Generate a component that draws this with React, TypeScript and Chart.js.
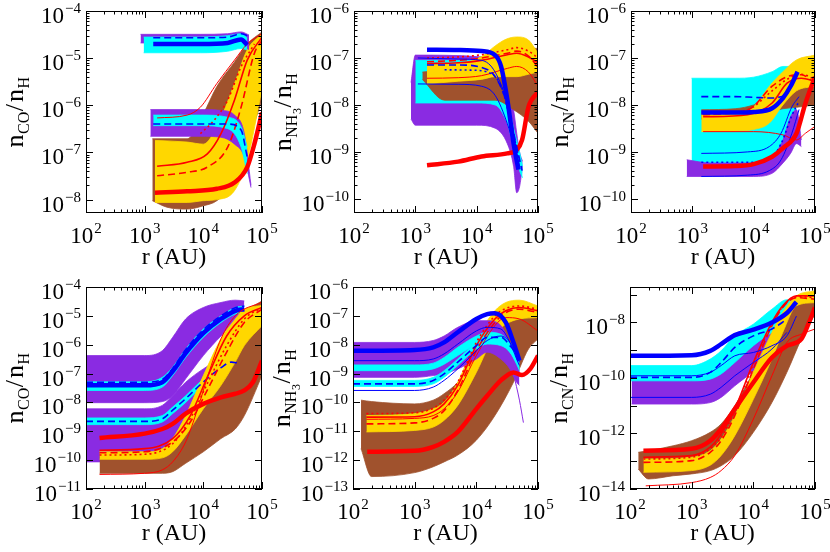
import React, { useEffect, useRef } from 'react';
import { Chart, registerables } from 'chart.js';

Chart.register(...registerables);

const W = 830;
const H = 552;
const SERIF = '"Liberation Serif", "Times New Roman", "DejaVu Serif", serif';

const PURPLE = '#8a2be2';
const CYAN = '#00ffff';
const GOLD = '#ffd700';
const BROWN = '#a0522d';
const BLUE = '#0000ff';
const RED = '#ff0000';

// ---------- shared axis ticks ----------
const xTicks = [1e2, 1e3, 1e4, 1e5];
const xTickExps = ['2', '3', '4', '5'];
const minorMult = [2, 3, 4, 5, 6, 7, 8, 9];

// ---------- Panel 1 : CO (top-left) ----------
const p1YTicks = [1e-4, 1e-5, 1e-6, 1e-7, 1e-8];
const p1YExps = ['\u22124', '\u22125', '\u22126', '\u22127', '\u22128'];
const p1PurpleAX = [850, 2400, 8900, 26000, 44000, 60000];
const p1PurpleAHi = [3.2e-5, 3.2e-5, 3.2e-5, 3.3e-5, 3.6e-5, 3.1e-5];
const p1PurpleALo = [2.1e-5, 2.1e-5, 2.1e-5, 2.1e-5, 2.0e-5, 1.5e-5];
const p1CyanAX = [960, 2400, 8900, 26000, 44000, 56000];
const p1CyanAHi = [2.8e-5, 2.8e-5, 2.8e-5, 3.0e-5, 3.3e-5, 2.7e-5];
const p1CyanALo = [1.3e-5, 1.3e-5, 1.3e-5, 1.4e-5, 1.6e-5, 1.5e-5];
const p1PurpleBX = [1250, 8900, 20000, 34000, 50000, 65000];
const p1PurpleBHi = [8.1e-7, 8.1e-7, 7.8e-7, 6.2e-7, 2.5e-7, 2e-8];
const p1PurpleBLo = [2.2e-7, 2.2e-7, 2.1e-7, 1.5e-7, 8e-8, 1.8e-8];
const p1CyanBX = [1400, 8900, 26000, 44000, 56000];
const p1CyanBHi = [6.2e-7, 6.2e-7, 5.6e-7, 3.5e-7, 1.3e-7];
const p1CyanBLo = [3.7e-7, 3.7e-7, 3.2e-7, 1.3e-7, 3.5e-8];
const p1BrownX = [1350, 2400, 5300, 10000, 17000, 34000, 56000, 100000];
const p1BrownHi = [1.95e-7, 1.95e-7, 1.95e-7, 6.6e-7, 2.5e-6, 8.3e-6, 2.0e-5, 3.6e-5];
const p1BrownLo = [9.5e-9, 6.9e-9, 6.3e-9, 7.4e-9, 9.5e-9, 2.5e-8, 1.5e-7, 1.3e-6];
const p1GoldX = [1500, 5300, 10000, 17000, 34000, 56000, 100000];
const p1GoldHi = [1.8e-7, 1.66e-7, 1.5e-7, 3.5e-7, 2.9e-6, 1.5e-5, 3.3e-5];
const p1GoldLo = [8.7e-9, 8.7e-9, 9.5e-9, 1.0e-8, 1.55e-8, 6.8e-8, 2.2e-6];
const p1BlueX = [1400, 8900, 26000, 44000, 56000];
const p1BlueThick = [2.0e-5, 2.0e-5, 2.1e-5, 2.5e-5, 1.9e-5];
const p1BlueDashA = [2.7e-5, 2.7e-5, 2.8e-5, 3.3e-5, 3.0e-5];
const p1BlueDashB = [4e-7, 4e-7, 4e-7, 3e-7, 8e-8];
const p1RedThickX = [1500, 5300, 17000, 34000, 56000, 74000, 100000];
const p1RedThick = [1.4e-8, 1.5e-8, 1.7e-8, 2.3e-8, 4.9e-8, 1.5e-7, 7e-7];
const p1RedThinX = [1630, 5300, 8900, 17000, 34000, 56000, 100000];
const p1RedThin = [5.4e-7, 6.2e-7, 9.1e-7, 2.9e-6, 9.1e-6, 2.0e-5, 3.3e-5];
const p1RedMedX = [1630, 5300, 11700, 20000, 34000, 56000, 100000];
const p1RedMed = [5.1e-8, 6.2e-8, 9.3e-8, 2.5e-7, 1.3e-6, 9.1e-6, 2.8e-5];
const p1RedDashX = [1630, 5300, 11700, 26000, 44000, 74000, 100000];
const p1RedDash = [3.2e-8, 3.8e-8, 4.9e-8, 1.3e-7, 9.1e-7, 1.26e-5, 2.4e-5];
const p1RedDotX = [8900, 15200, 26000, 44000, 74000];
const p1RedDot = [2.5e-7, 4.8e-7, 1.3e-6, 6.6e-6, 2e-5];

// ---------- Panel 2 : NH3 (top-middle) ----------
const p2YTicks = [1e-6, 1e-7, 1e-8, 1e-9, 1e-10];
const p2YExps = ['\u22126', '\u22127', '\u22128', '\u22129', '\u221210'];
const p2PurpleX = [850, 1000, 10000, 20000, 31600, 40000, 45000, 50000, 56000];
const p2PurpleHi = [3e-8, 1.15e-7, 1.07e-7, 7.8e-8, 2.9e-8, 7.9e-9, 2.5e-9, 1e-9, 6.3e-10];
const p2PurpleLo = [5e-9, 3.7e-9, 3.7e-9, 3.2e-9, 1.5e-9, 4.9e-10, 1.35e-10, 1.8e-10, 5e-10];
const p2CyanX = [1000, 10000, 20000, 31600, 40000, 50000, 56000];
const p2CyanHi = [8.9e-8, 8.9e-8, 5e-8, 1.26e-8, 3.2e-9, 1e-9, 5e-10];
const p2CyanLo = [1.1e-8, 1.1e-8, 1e-8, 4e-9, 1.26e-9, 4e-10, 2.8e-10];
const p2BrownX = [1300, 3000, 10000, 20000, 40000, 70000, 100000];
const p2BrownHi = [5e-8, 5.6e-8, 7.9e-8, 1.1e-7, 1.4e-7, 1.6e-7, 1.6e-7];
const p2BrownLo = [3.5e-8, 1.26e-8, 1.26e-8, 1.26e-8, 7.9e-9, 4.5e-9, 2.5e-9];
const p2GoldX = [1550, 5000, 12000, 20000, 30000, 45000, 70000, 100000];
const p2GoldHi = [7.1e-8, 7.6e-8, 1.07e-7, 1.8e-7, 2.5e-7, 2.8e-7, 2.4e-7, 1.26e-7];
const p2GoldLo = [2.8e-8, 3.2e-8, 3.5e-8, 4e-8, 4e-8, 4e-8, 4.5e-8, 5e-8];
const p2BlueThickX = [1550, 5000, 12000, 20000, 25000, 31600, 40000, 48000];
const p2BlueThick = [1.5e-7, 1.48e-7, 1.4e-7, 1.15e-7, 6.6e-8, 1.3e-8, 1.5e-9, 4.2e-10];
const p2BlueThinAX = [1100, 5000, 12000, 20000, 31600, 45000];
const p2BlueThinA = [1e-7, 9.5e-8, 8.9e-8, 5e-8, 1e-8, 8e-10];
const p2BlueDashX = [1550, 5000, 12000, 20000, 31600, 45000, 55000];
const p2BlueDash = [7.1e-8, 7.1e-8, 6.3e-8, 4e-8, 1e-8, 1.26e-9, 4e-10];
const p2BlueDotX = [3000, 8000, 15000, 25000, 35000, 50000];
const p2BlueDot = [5.6e-8, 5.5e-8, 5e-8, 2.5e-8, 5e-9, 6.3e-10];
const p2BlueThinBX = [1100, 5000, 12000, 20000, 31600, 50000];
const p2BlueThinB = [2.8e-8, 2.75e-8, 2.5e-8, 1.6e-8, 4e-9, 5e-10];
const p2RedThickX = [1550, 5000, 12000, 31600, 45000, 55000, 70000, 100000];
const p2RedThick = [5.2e-10, 6.2e-10, 8e-10, 9.3e-10, 1.1e-9, 1.8e-9, 9.1e-9, 1.9e-8];
const p2RedX = [1550, 5000, 12000, 31600, 45000, 70000, 100000];
const p2RedThin = [3.7e-8, 3.8e-8, 4.2e-8, 6e-8, 6.6e-8, 5e-8, 2.5e-8];
const p2RedDash = [8.3e-8, 8.9e-8, 1e-7, 1.26e-7, 1.4e-7, 1.1e-7, 6.3e-8];
const p2RedMed = [7.6e-8, 7.9e-8, 8.9e-8, 1.17e-7, 1.26e-7, 1.05e-7, 7.9e-8];
const p2RedDot = [1e-7, 1.05e-7, 1.17e-7, 1.5e-7, 1.66e-7, 1.4e-7, 1e-7];

// ---------- Panel 3 : CN (top-right) ----------
const p3YTicks = [1e-6, 1e-7, 1e-8, 1e-9, 1e-10];
const p3YExps = ['\u22126', '\u22127', '\u22128', '\u22129', '\u221210'];
const p3CyanX = [970, 5000, 10000, 20000, 30000, 40000, 50000];
const p3CyanHi = [3.7e-8, 3.7e-8, 3.9e-8, 5.1e-8, 6.6e-8, 6.6e-8, 5.1e-8];
const p3CyanLo = [5.8e-10, 5.8e-10, 5.8e-10, 6.8e-10, 1.1e-9, 1.8e-9, 2.5e-9];
const p3PurpleX = [810, 2000, 10000, 20000, 30000, 40000, 50000, 60000];
const p3PurpleHi = [6.8e-10, 5.8e-10, 5.8e-10, 7.9e-10, 1.8e-9, 5.6e-9, 7.9e-9, 1.8e-9];
const p3PurpleLo = [3e-10, 3e-10, 3e-10, 3.5e-10, 5.8e-10, 9.3e-10, 1.5e-9, 1.3e-9];
const p3BandX = [1400, 5000, 10000, 18000, 30000, 50000, 100000];
const p3BrownHi = [7.9e-9, 8.3e-9, 1e-8, 1.4e-8, 2e-8, 2.8e-8, 3.2e-8];
const p3BrownLo = [5e-9, 5.2e-9, 6e-9, 7.1e-9, 8.3e-9, 8.9e-9, 1e-8];
const p3GoldHi = [6.2e-9, 6.3e-9, 9.1e-9, 2.5e-8, 5.1e-8, 9.1e-8, 1.15e-7];
const p3GoldLo = [2.7e-9, 2.8e-9, 3e-9, 4.1e-9, 1e-8, 2e-8, 2.5e-8];
const p3BlueThickX = [1400, 5000, 10000, 20000, 30000, 40000, 52000];
const p3BlueThick = [6.9e-9, 6.9e-9, 7.1e-9, 8.5e-9, 1.4e-8, 2.5e-8, 5.1e-8];
const p3BlueDashX = [1400, 5000, 10000, 20000, 35000];
const p3BlueDash = [1.5e-8, 1.5e-8, 1.45e-8, 1.4e-8, 1.6e-8];
const p3BlueThinX = [1400, 8000, 18000, 28000, 42000, 55000];
const p3BlueThin = [9.3e-10, 1e-9, 1.3e-9, 2.5e-9, 9.1e-9, 1.5e-8];
const p3BlueDot = [6e-10, 6e-10, 7e-10, 1.5e-9, 6e-9, 1.2e-8];
const p3BlueThinB = [3e-10, 3.2e-10, 4e-10, 6.8e-10, 2.5e-9, 8e-9];
const p3RedThickX = [1500, 5000, 10000, 20000, 30000, 50000, 70000, 100000];
const p3RedThick = [4.9e-10, 5e-10, 5.5e-10, 7.9e-10, 1.2e-9, 2.5e-9, 1.1e-8, 4e-8];
const p3RedThinX = [1500, 10000, 30000, 50000, 70000, 100000];
const p3RedThin = [2.7e-9, 2.7e-9, 2.3e-9, 1.8e-9, 2.5e-9, 3.5e-9];
const p3RedX = [1500, 8000, 20000, 35000, 60000, 100000];
const p3RedMed = [5.6e-9, 6.2e-9, 1.1e-8, 2.9e-8, 3.7e-8, 3.2e-8];
const p3RedDash = [6.2e-9, 7.8e-9, 2.5e-8, 4e-8, 4.4e-8, 2.9e-8];
const p3RedDot = [6.3e-9, 7.9e-9, 2e-8, 3.5e-8, 4.5e-8, 3.5e-8];

// ---------- Panel 4 : CO (bottom-left) ----------
const p4YTicks = [1e-4, 1e-5, 1e-6, 1e-7, 1e-8, 1e-9, 1e-10, 1e-11];
const p4YExps = ['\u22124', '\u22125', '\u22126', '\u22127', '\u22128', '\u22129', '\u221210', '\u221211'];
const p4AX = [100, 1000, 2000, 3000, 5000, 10000, 20000, 35000, 50000];
const p4PurpleAHi = [4.2e-7, 4.2e-7, 6.2e-7, 1.8e-6, 7.8e-6, 1.95e-5, 2.9e-5, 3.5e-5, 3.3e-5];
const p4PurpleALo = [9.8e-9, 9.8e-9, 1.07e-8, 1.7e-8, 6.6e-8, 4.2e-7, 2e-6, 5.9e-6, 6.8e-6];
const p4CyanAHi = [5.2e-8, 5.2e-8, 7.4e-8, 1.66e-7, 7.1e-7, 3.5e-6, 1e-5, 1.95e-5, 2.2e-5];
const p4CyanALo = [2.6e-8, 2.6e-8, 3.4e-8, 8.5e-8, 3.6e-7, 1.8e-6, 5.9e-6, 1.15e-5, 1.3e-5];
const p4BlueThickA = [3.9e-8, 3.9e-8, 5e-8, 1.2e-7, 5.1e-7, 2.5e-6, 7.8e-6, 1.5e-5, 1.7e-5];
const p4BlueDashA = [5e-8, 5e-8, 6.3e-8, 1.5e-7, 6.8e-7, 3.3e-6, 1e-5, 1.9e-5, 2.2e-5];
const p4PurpleBX = [100, 1000, 2000, 3000, 5000, 10000, 20000, 35000, 50000, 60000];
const p4PurpleBHi = [6e-9, 6e-9, 7.9e-9, 1.7e-8, 5e-8, 1.45e-7, 3.2e-7, 4.2e-7, 2.5e-7, 3.9e-8];
const p4PurpleBLo = [8.7e-11, 8.7e-11, 1.15e-10, 2.5e-10, 9.5e-10, 3.5e-9, 1e-8, 2.3e-8, 2.6e-8, 2.3e-8];
const p4CyanBX = [100, 1000, 2000, 3000, 5000, 10000, 20000, 30000, 40000, 50000];
const p4CyanBHi = [2.9e-9, 2.9e-9, 3.5e-9, 6.9e-9, 1.7e-8, 6.6e-8, 2.1e-7, 3.2e-7, 2.8e-7, 8.5e-8];
const p4CyanBLo = [1.7e-9, 1.7e-9, 2.1e-9, 4.1e-9, 1e-8, 3.9e-8, 1.26e-7, 1.9e-7, 1.1e-7, 3e-8];
const p4BlueDashBX = [100, 1000, 2000, 3000, 5000, 10000, 20000, 30000, 40000];
const p4BlueDashB = [2.2e-9, 2.2e-9, 2.7e-9, 5.4e-9, 1.35e-8, 5.1e-8, 1.6e-7, 2.5e-7, 2.3e-7];
const p4BandX = [170, 1000, 2000, 3000, 5000, 10000, 20000, 35000, 50000, 100000];
const p4BrownHi = [1.3e-10, 1.3e-10, 1.95e-10, 4.3e-10, 1.6e-9, 2.3e-8, 7.1e-7, 4.6e-6, 1.3e-5, 3.3e-5];
const p4BrownLo = [3.5e-11, 3.5e-11, 3.5e-11, 4e-11, 7.8e-11, 1.95e-10, 5.6e-10, 1.2e-9, 3.5e-9, 8.5e-8];
const p4GoldHi = [1.95e-10, 1.95e-10, 2.5e-10, 5.6e-10, 3.5e-9, 8.5e-8, 1.6e-6, 7.8e-6, 1.7e-5, 2.3e-5];
const p4GoldLo = [1.07e-10, 1.07e-10, 1.2e-10, 1.95e-10, 7.2e-10, 6e-9, 3.9e-8, 2.5e-7, 9.3e-7, 4.6e-6];
const p4RedThickX = [170, 1000, 2000, 3000, 5000, 10000, 20000, 35000, 50000, 70000, 100000];
const p4RedThick = [5.9e-10, 8.3e-10, 1.2e-9, 1.8e-9, 4.1e-9, 8.9e-9, 1.5e-8, 2e-8, 2.6e-8, 5e-8, 2.8e-7];
const p4RedThinX = [170, 1000, 2000, 3000, 5000, 8000, 12000, 20000, 35000, 100000];
const p4RedThin = [3.2e-11, 3.5e-11, 4.6e-11, 8.7e-11, 4.3e-10, 6e-9, 8.5e-8, 1.6e-6, 1e-5, 3e-5];
const p4RedX = [170, 1000, 3000, 6000, 12000, 25000, 50000, 100000];
const p4RedMed = [2.2e-10, 2.5e-10, 5.6e-10, 3.5e-9, 8.5e-8, 2e-6, 1e-5, 1.95e-5];
const p4RedDash = [1.8e-10, 1.95e-10, 4.3e-10, 2.1e-9, 3e-8, 5.5e-7, 5.9e-6, 1.7e-5];
const p4RedDot = [1.5e-10, 1.6e-10, 3.7e-10, 2.8e-9, 5e-8, 9.3e-7, 7.8e-6, 1.95e-5];

// ---------- Panel 5 : NH3 (bottom-middle) ----------
const p5YTicks = [1e-6, 1e-7, 1e-8, 1e-9, 1e-10, 1e-11, 1e-12, 1e-13];
const p5YExps = ['\u22126', '\u22127', '\u22128', '\u22129', '\u221210', '\u221211', '\u221212', '\u221213'];
const p5AX = [100, 1000, 2000, 3000, 5000, 10000, 15000, 25000, 35000, 45000, 50000];
const p5PurpleHi = [1.2e-8, 1.2e-8, 1.4e-8, 2e-8, 4e-8, 6.8e-8, 6.8e-8, 4.6e-8, 1.2e-8, 3.2e-9, 1.1e-9];
const p5PurpleLo = [7.4e-10, 7.4e-10, 8.5e-10, 9.8e-10, 1.45e-9, 3.2e-9, 5.5e-9, 3.2e-9, 1.45e-9, 5e-10, 3.9e-10];
const p5CyanAHi = [2e-9, 2e-9, 2.3e-9, 3.6e-9, 8.1e-9, 2e-8, 2.7e-8, 2.3e-8, 1.2e-8, 5.5e-9, 3.2e-9];
const p5CyanALo = [1.26e-9, 1.26e-9, 1.45e-9, 2.1e-9, 4.2e-9, 1.05e-8, 1.4e-8, 1.05e-8, 5.5e-9, 2.5e-9, 1.45e-9];
const p5CyanBHi = [5.8e-10, 5.8e-10, 7.4e-10, 1.26e-9, 3.2e-9, 1.2e-8, 2e-8, 1.8e-8, 1.05e-8, 4.2e-9, 2.5e-9];
const p5CyanBLo = [3.6e-10, 3.6e-10, 4.4e-10, 7.4e-10, 1.9e-9, 7.1e-9, 1.05e-8, 9.3e-9, 5.5e-9, 2.1e-9, 1.26e-9];
const p5BlueThickX = [100, 1000, 2000, 3000, 5000, 10000, 15000, 20000, 30000, 40000, 50000];
const p5BlueThick = [6.2e-9, 6.6e-9, 8.1e-9, 1.2e-8, 2.7e-8, 7.8e-8, 1.15e-7, 1.23e-7, 5.9e-8, 1.2e-8, 2.8e-9];
const p5BlueThinA = [2.8e-9, 2.8e-9, 3.2e-9, 4.8e-9, 1.05e-8, 3e-8, 4e-8, 3.5e-8, 1.2e-8, 3.2e-9, 1.9e-9];
const p5BlueDash = [4.4e-10, 4.4e-10, 5.8e-10, 9.8e-10, 2.5e-9, 9.3e-9, 1.8e-8, 1.8e-8, 9.3e-9, 4.2e-9, 2.1e-9];
const p5BlueThinB = [2.6e-10, 2.6e-10, 3.4e-10, 5.8e-10, 1.45e-9, 6.2e-9, 1.4e-8, 2e-8, 1.2e-8, 4.2e-9, 2.5e-9];
const p5PurpleTailX = [40000, 50000, 58000];
const p5PurpleTail = [1e-9, 1.2e-10, 2e-11];
const p5BrownX = [135, 200, 1000, 2000, 3000, 5000, 10000, 20000, 40000, 70000, 100000];
const p5BrownHi = [1.2e-10, 1.07e-10, 8.9e-11, 1.2e-10, 2e-10, 5e-10, 4.2e-9, 7.8e-8, 2.5e-7, 2.5e-7, 1.7e-7];
const p5BrownLo = [2.5e-12, 2.7e-13, 3.7e-13, 5.9e-13, 8.7e-13, 1.5e-12, 4.9e-12, 3.5e-11, 5e-10, 7.1e-9, 1.6e-8];
const p5GoldX = [165, 1000, 2000, 3000, 5000, 10000, 20000, 30000, 50000, 100000];
const p5GoldHi = [3.5e-11, 4.1e-11, 6e-11, 1.02e-10, 5e-10, 1.6e-8, 1.5e-7, 2.9e-7, 3.5e-7, 2.2e-7];
const p5GoldLo = [9.5e-12, 1.07e-11, 1.4e-11, 2.4e-11, 7.9e-11, 1.1e-9, 2.3e-8, 5.1e-8, 7.8e-8, 8.7e-8];
const p5RedThickX = [170, 1000, 2000, 3000, 5000, 10000, 15000, 25000, 40000, 55000, 75000, 100000];
const p5RedThick = [1.95e-12, 2.1e-12, 2.9e-12, 4.3e-12, 9.5e-12, 6e-11, 1.7e-10, 5.8e-10, 1.1e-9, 8.9e-10, 1.45e-9, 4.2e-9];
const p5RedMed = [3.1e-11, 3.2e-11, 4.7e-11, 8.9e-11, 3.9e-10, 9.3e-9, 7.8e-8, 1.5e-7, 1.95e-7, 1.5e-7];
const p5RedDash = [1.8e-11, 1.95e-11, 2.8e-11, 5.2e-11, 2.6e-10, 6.2e-9, 5.9e-8, 1.3e-7, 1.7e-7, 1.3e-7];
const p5RedDot = [4.1e-11, 4.4e-11, 6.3e-11, 1.2e-10, 5e-10, 1.2e-8, 1e-7, 1.8e-7, 2.2e-7, 1.7e-7];
const p5RedThin = [2.6e-11, 2.8e-11, 3.5e-11, 6e-11, 2.3e-10, 4.2e-9, 4.6e-8, 8.7e-8, 7.8e-8, 3e-8];

// ---------- Panel 6 : CN (bottom-right) ----------
const p6YTicks = [1e-7, 1e-8, 1e-9, 1e-10, 1e-11, 1e-12, 1e-13, 1e-14];
const p6YExps = ['', '\u22128', '', '\u221210', '', '\u221212', '', '\u221214'];
const p6CyanX = [100, 1000, 2000, 3000, 5000, 10000, 20000, 35000, 45000];
const p6CyanHi = [2.8e-10, 2.8e-10, 4.8e-10, 9.5e-10, 3.3e-9, 8.7e-9, 3e-8, 6.6e-8, 6.6e-8];
const p6CyanLo = [7.9e-11, 7.9e-11, 9.1e-11, 1.4e-10, 3.6e-10, 1.45e-9, 4.4e-9, 7.6e-9, 5.8e-9];
const p6PurpleX = [106, 1000, 2000, 3000, 5000, 10000, 20000, 35000, 50000];
const p6PurpleHi = [1.05e-10, 1.05e-10, 1.4e-10, 2.4e-10, 6.3e-10, 2.5e-9, 1e-8, 2.3e-8, 3e-8];
const p6PurpleLo = [1.15e-11, 1.15e-11, 1.3e-11, 2e-11, 5.2e-11, 1.8e-10, 8.3e-10, 4.4e-9, 1.7e-8];
const p6BrownX = [136, 200, 500, 1000, 2000, 3000, 5000, 10000, 20000, 35000, 60000, 100000];
const p6BrownHi = [2.1e-13, 2.4e-13, 3.6e-13, 5.5e-13, 1.1e-12, 2.2e-12, 1e-11, 1.6e-10, 2.5e-9, 1.7e-8, 6e-8, 9.1e-8];
const p6BrownLo = [5.2e-14, 2.3e-14, 3e-14, 3.5e-14, 4.6e-14, 6.9e-14, 1.6e-13, 1.1e-12, 1.3e-11, 1.6e-10, 2.5e-9, 2e-8];
const p6GoldX = [165, 1000, 2000, 3000, 5000, 10000, 20000, 30000, 50000, 100000];
const p6GoldHi = [1.2e-13, 1.4e-13, 2.4e-13, 6.3e-13, 4.4e-12, 1.6e-10, 4.4e-9, 2.3e-8, 9.1e-8, 1.4e-7];
const p6GoldLo = [4e-14, 4.6e-14, 7.2e-14, 1.6e-13, 8.3e-13, 1.7e-11, 4.8e-10, 4.4e-9, 4e-8, 5.2e-8];
const p6BlueThickX = [100, 1000, 2000, 3000, 5000, 10000, 20000, 35000, 50000];
const p6BlueThick = [6.3e-10, 6.6e-10, 9.5e-10, 1.66e-9, 3.5e-9, 5.5e-9, 1e-8, 2.2e-8, 5.5e-8];
const p6BlueThinA = [1.2e-10, 1.2e-10, 1.6e-10, 2.8e-10, 6.3e-10, 8.3e-10, 1.45e-9, 3.3e-9, 1.7e-8];
const p6BlueDashX = [100, 1000, 2000, 3000, 5000, 10000, 20000, 35000];
const p6BlueDash = [1.05e-10, 1.05e-10, 1.6e-10, 3.6e-10, 1.26e-9, 3.3e-9, 5.8e-9, 1.3e-8];
const p6BlueThinB = [2e-11, 2e-11, 2.6e-11, 4.6e-11, 1.2e-10, 3.6e-10, 1.1e-9, 4.4e-9];
const p6RedThickX = [165, 1000, 2000, 3000, 5000, 10000, 20000, 35000, 60000, 80000, 100000];
const p6RedThick = [2.4e-13, 2.8e-13, 5.5e-13, 1.45e-12, 7.6e-12, 6.9e-11, 5.5e-10, 1.45e-9, 2.5e-9, 1e-8, 3.5e-8];
const p6RedThinX = [180, 1000, 2000, 3000, 5000, 10000, 20000, 35000, 60000, 100000];
const p6RedThin = [1.3e-14, 1.7e-14, 2.6e-14, 4.6e-14, 1.6e-13, 3.3e-12, 1.2e-10, 1.9e-9, 3.8e-9, 5.8e-9];
const p6RedMed = [1.4e-13, 1.6e-13, 3.2e-13, 9.5e-13, 7.6e-12, 3.6e-10, 1e-8, 4e-8, 9.1e-8, 9.1e-8];
const p6RedDash = [9.1e-14, 1.05e-13, 2.1e-13, 5.5e-13, 4.4e-12, 2.1e-10, 7.6e-9, 3.5e-8, 7.9e-8, 6.9e-8];
const p6RedDot = [1.2e-13, 1.4e-13, 2.8e-13, 7.2e-13, 6.6e-12, 3.2e-10, 8.7e-9, 3.7e-8, 8.5e-8, 7.9e-8];

// ---------- types & panel specs ----------
type Band = { x: number[]; hi: number[]; lo: number[]; color: string };
type Ln = { x: number[]; y: number[]; color: string; w: number; dash?: number[] };
type Seg = [string, number];
type Panel = {
  area: [number, number, number, number]; // left, top, right, bottom
  yMin: number;
  yMax: number;
  yTicks: number[];
  yExps: string[];
  yMinor: boolean;
  title: Seg[];
  bands: Band[];
  lines: Ln[];
};

const THICK = 4.5;
const MED = 1.6;
const THIN = 1;
const DASH = [7, 4];
const DOT = [2, 3];

const titleCO: Seg[] = [['n', 0], ['CO', 1], ['/', 0], ['n', 0], ['H', 1]];
const titleNH3: Seg[] = [['n', 0], ['NH', 1], ['3', 2], ['/', 0], ['n', 0], ['H', 1]];
const titleCN: Seg[] = [['n', 0], ['CN', 1], ['/', 0], ['n', 0], ['H', 1]];

const PANELS: Panel[] = [
  {
    area: [86, 11, 262, 213], yMin: 5.2e-9, yMax: 1e-4, yTicks: p1YTicks, yExps: p1YExps, yMinor: true, title: titleCO,
    bands: [
      { x: p1BrownX, hi: p1BrownHi, lo: p1BrownLo, color: BROWN },
      { x: p1GoldX, hi: p1GoldHi, lo: p1GoldLo, color: GOLD },
      { x: p1PurpleAX, hi: p1PurpleAHi, lo: p1PurpleALo, color: PURPLE },
      { x: p1CyanAX, hi: p1CyanAHi, lo: p1CyanALo, color: CYAN },
      { x: p1PurpleBX, hi: p1PurpleBHi, lo: p1PurpleBLo, color: PURPLE },
      { x: p1CyanBX, hi: p1CyanBHi, lo: p1CyanBLo, color: CYAN },
    ],
    lines: [
      { x: p1RedThinX, y: p1RedThin, color: RED, w: THIN },
      { x: p1RedMedX, y: p1RedMed, color: RED, w: MED },
      { x: p1RedDashX, y: p1RedDash, color: RED, w: MED, dash: DASH },
      { x: p1RedDotX, y: p1RedDot, color: RED, w: MED, dash: DOT },
      { x: p1RedThickX, y: p1RedThick, color: RED, w: THICK },
      { x: p1BlueX, y: p1BlueDashA, color: BLUE, w: MED, dash: DASH },
      { x: p1BlueX, y: p1BlueDashB, color: BLUE, w: MED, dash: DASH },
      { x: p1BlueX, y: p1BlueThick, color: BLUE, w: THICK },
    ],
  },
  {
    area: [354, 11, 538, 213], yMin: 5e-11, yMax: 1e-6, yTicks: p2YTicks, yExps: p2YExps, yMinor: true, title: titleNH3,
    bands: [
      { x: p2PurpleX, hi: p2PurpleHi, lo: p2PurpleLo, color: PURPLE },
      { x: p2CyanX, hi: p2CyanHi, lo: p2CyanLo, color: CYAN },
      { x: p2BrownX, hi: p2BrownHi, lo: p2BrownLo, color: BROWN },
      { x: p2GoldX, hi: p2GoldHi, lo: p2GoldLo, color: GOLD },
    ],
    lines: [
      { x: p2RedX, y: p2RedThin, color: RED, w: THIN },
      { x: p2RedX, y: p2RedMed, color: RED, w: MED },
      { x: p2RedX, y: p2RedDash, color: RED, w: MED, dash: DASH },
      { x: p2RedX, y: p2RedDot, color: RED, w: MED, dash: DOT },
      { x: p2RedThickX, y: p2RedThick, color: RED, w: THICK },
      { x: p2BlueThinAX, y: p2BlueThinA, color: BLUE, w: THIN },
      { x: p2BlueThinBX, y: p2BlueThinB, color: BLUE, w: THIN },
      { x: p2BlueDashX, y: p2BlueDash, color: BLUE, w: MED, dash: DASH },
      { x: p2BlueDotX, y: p2BlueDot, color: BLUE, w: MED, dash: DOT },
      { x: p2BlueThickX, y: p2BlueThick, color: BLUE, w: THICK },
    ],
  },
  {
    area: [631, 11, 815, 213], yMin: 5e-11, yMax: 1e-6, yTicks: p3YTicks, yExps: p3YExps, yMinor: true, title: titleCN,
    bands: [
      { x: p3CyanX, hi: p3CyanHi, lo: p3CyanLo, color: CYAN },
      { x: p3PurpleX, hi: p3PurpleHi, lo: p3PurpleLo, color: PURPLE },
      { x: p3BandX, hi: p3BrownHi, lo: p3BrownLo, color: BROWN },
      { x: p3BandX, hi: p3GoldHi, lo: p3GoldLo, color: GOLD },
    ],
    lines: [
      { x: p3RedThinX, y: p3RedThin, color: RED, w: THIN },
      { x: p3RedX, y: p3RedMed, color: RED, w: MED },
      { x: p3RedX, y: p3RedDash, color: RED, w: MED, dash: DASH },
      { x: p3RedX, y: p3RedDot, color: RED, w: MED, dash: DOT },
      { x: p3BlueThinX, y: p3BlueThin, color: BLUE, w: THIN },
      { x: p3BlueThinX, y: p3BlueThinB, color: BLUE, w: THIN },
      { x: p3BlueThinX, y: p3BlueDot, color: BLUE, w: MED, dash: DOT },
      { x: p3BlueDashX, y: p3BlueDash, color: BLUE, w: MED, dash: DASH },
      { x: p3RedThickX, y: p3RedThick, color: RED, w: THICK },
      { x: p3BlueThickX, y: p3BlueThick, color: BLUE, w: THICK },
    ],
  },
  {
    area: [86, 287, 262, 489], yMin: 1e-11, yMax: 1e-4, yTicks: p4YTicks, yExps: p4YExps, yMinor: false, title: titleCO,
    bands: [
      { x: p4AX, hi: p4PurpleAHi, lo: p4PurpleALo, color: PURPLE },
      { x: p4PurpleBX, hi: p4PurpleBHi, lo: p4PurpleBLo, color: PURPLE },
      { x: p4AX, hi: p4CyanAHi, lo: p4CyanALo, color: CYAN },
      { x: p4CyanBX, hi: p4CyanBHi, lo: p4CyanBLo, color: CYAN },
      { x: p4BandX, hi: p4BrownHi, lo: p4BrownLo, color: BROWN },
      { x: p4BandX, hi: p4GoldHi, lo: p4GoldLo, color: GOLD },
    ],
    lines: [
      { x: p4AX, y: p4BlueDashA, color: BLUE, w: MED, dash: DASH },
      { x: p4AX, y: p4BlueThickA, color: BLUE, w: THICK },
      { x: p4BlueDashBX, y: p4BlueDashB, color: BLUE, w: MED, dash: DASH },
      { x: p4RedThinX, y: p4RedThin, color: RED, w: THIN },
      { x: p4RedX, y: p4RedMed, color: RED, w: MED },
      { x: p4RedX, y: p4RedDash, color: RED, w: MED, dash: DASH },
      { x: p4RedX, y: p4RedDot, color: RED, w: MED, dash: DOT },
      { x: p4RedThickX, y: p4RedThick, color: RED, w: THICK },
    ],
  },
  {
    area: [353, 287, 538, 489], yMin: 1e-13, yMax: 1e-6, yTicks: p5YTicks, yExps: p5YExps, yMinor: false, title: titleNH3,
    bands: [
      { x: p5BrownX, hi: p5BrownHi, lo: p5BrownLo, color: BROWN },
      { x: p5GoldX, hi: p5GoldHi, lo: p5GoldLo, color: GOLD },
      { x: p5AX, hi: p5PurpleHi, lo: p5PurpleLo, color: PURPLE },
      { x: p5AX, hi: p5CyanAHi, lo: p5CyanALo, color: CYAN },
      { x: p5AX, hi: p5CyanBHi, lo: p5CyanBLo, color: CYAN },
    ],
    lines: [
      { x: p5PurpleTailX, y: p5PurpleTail, color: PURPLE, w: THIN },
      { x: p5GoldX, y: p5RedThin, color: RED, w: THIN },
      { x: p5GoldX, y: p5RedMed, color: RED, w: MED },
      { x: p5GoldX, y: p5RedDash, color: RED, w: MED, dash: DASH },
      { x: p5GoldX, y: p5RedDot, color: RED, w: MED, dash: DOT },
      { x: p5RedThickX, y: p5RedThick, color: RED, w: THICK },
      { x: p5AX, y: p5BlueThinA, color: BLUE, w: THIN },
      { x: p5AX, y: p5BlueThinB, color: BLUE, w: THIN },
      { x: p5AX, y: p5BlueDash, color: BLUE, w: MED, dash: DASH },
      { x: p5BlueThickX, y: p5BlueThick, color: BLUE, w: THICK },
    ],
  },
  {
    area: [630, 287, 815, 489], yMin: 1e-14, yMax: 1.9e-7, yTicks: p6YTicks, yExps: p6YExps, yMinor: false, title: titleCN,
    bands: [
      { x: p6PurpleX, hi: p6PurpleHi, lo: p6PurpleLo, color: PURPLE },
      { x: p6CyanX, hi: p6CyanHi, lo: p6CyanLo, color: CYAN },
      { x: p6BrownX, hi: p6BrownHi, lo: p6BrownLo, color: BROWN },
      { x: p6GoldX, hi: p6GoldHi, lo: p6GoldLo, color: GOLD },
    ],
    lines: [
      { x: p6RedThinX, y: p6RedThin, color: RED, w: THIN },
      { x: p6GoldX, y: p6RedMed, color: RED, w: MED },
      { x: p6GoldX, y: p6RedDash, color: RED, w: MED, dash: DASH },
      { x: p6GoldX, y: p6RedDot, color: RED, w: MED, dash: DOT },
      { x: p6BlueDashX, y: p6BlueThinB, color: BLUE, w: THIN },
      { x: p6BlueThickX, y: p6BlueThinA, color: BLUE, w: THIN },
      { x: p6BlueDashX, y: p6BlueDash, color: BLUE, w: MED, dash: DASH },
      { x: p6RedThickX, y: p6RedThick, color: RED, w: THICK },
      { x: p6BlueThickX, y: p6BlueThick, color: BLUE, w: THICK },
    ],
  },
];

// ---------- drawing helpers ----------
function drawPow(ctx: CanvasRenderingContext2D, x: number, yBase: number, exp: string, align: 'right' | 'center') {
  ctx.font = `23px ${SERIF}`;
  const wb = ctx.measureText('10').width;
  ctx.font = `15px ${SERIF}`;
  const we = ctx.measureText(exp).width;
  const tot = wb + 1 + we;
  const x0 = align === 'right' ? x - tot : x - tot / 2;
  ctx.textAlign = 'left';
  ctx.textBaseline = 'alphabetic';
  ctx.fillStyle = '#000';
  ctx.font = `23px ${SERIF}`;
  ctx.fillText('10', x0, yBase);
  ctx.font = `15px ${SERIF}`;
  ctx.fillText(exp, x0 + wb + 1, yBase - 10);
}

const T_SIZES = [26, 16, 12];
const T_OFFS = [0, 6, 10];

function makePlugin(p: Panel) {
  return {
    id: 'frameAxes',
    afterDraw(chart: any) {
      const ctx: CanvasRenderingContext2D = chart.ctx;
      const xs = chart.scales.x;
      const ys = chart.scales.y;
      const { left, right, top, bottom } = chart.chartArea;
      ctx.save();
      ctx.strokeStyle = '#000';
      ctx.lineWidth = 1;
      const seg = (x1: number, y1: number, x2: number, y2: number) => {
        ctx.beginPath();
        ctx.moveTo(x1, y1);
        ctx.lineTo(x2, y2);
        ctx.stroke();
      };
      ctx.strokeRect(left + 0.5, top + 0.5, right - left - 1, bottom - top - 1);
      // x ticks
      xTicks.forEach((v, i) => {
        const px = Math.round(xs.getPixelForValue(v)) + 0.5;
        seg(px, bottom, px, bottom - 7);
        seg(px, top, px, top + 7);
        if (i < xTicks.length - 1) {
          minorMult.forEach((m) => {
            const q = Math.round(xs.getPixelForValue(m * v)) + 0.5;
            seg(q, bottom, q, bottom - 3.5);
            seg(q, top, q, top + 3.5);
          });
        }
        drawPow(ctx, xs.getPixelForValue(v), bottom + 30, xTickExps[i], 'center');
      });
      // y ticks
      p.yTicks.forEach((v, i) => {
        const py = Math.round(ys.getPixelForValue(v)) + 0.5;
        seg(left, py, left + 7, py);
        seg(right, py, right - 7, py);
        if (p.yMinor) {
          minorMult.forEach((m) => {
            const val = m * v;
            if (val < p.yMin || val > p.yMax) return;
            const q = Math.round(ys.getPixelForValue(val)) + 0.5;
            seg(left, q, left + 3.5, q);
            seg(right, q, right - 3.5, q);
          });
        }
        if (p.yExps[i]) drawPow(ctx, left - 5, ys.getPixelForValue(v) + 12, p.yExps[i], 'right');
      });
      // x title
      ctx.fillStyle = '#000';
      ctx.font = `24px ${SERIF}`;
      ctx.textAlign = 'center';
      ctx.textBaseline = 'alphabetic';
      ctx.fillText('r (AU)', (left + right) / 2, bottom + 51);
      // y title (rotated)
      ctx.save();
      ctx.translate(left - 63, (top + bottom) / 2);
      ctx.rotate(-Math.PI / 2);
      ctx.textAlign = 'left';
      let total = 0;
      p.title.forEach(([t, l]) => {
        ctx.font = `${T_SIZES[l]}px ${SERIF}`;
        total += ctx.measureText(t).width + (t === '/' ? 2 : 0.5);
      });
      let x = -total / 2;
      p.title.forEach(([t, l]) => {
        ctx.font = `${T_SIZES[l]}px ${SERIF}`;
        ctx.fillText(t, x, T_OFFS[l]);
        x += ctx.measureText(t).width + (t === '/' ? 2 : 0.5);
      });
      ctx.restore();
      ctx.restore();
    },
  };
}

function buildDatasets(p: Panel) {
  const ds: any[] = [];
  p.bands.forEach((b) => {
    ds.push({
      data: b.x.map((x, i) => ({ x, y: b.lo[i] })),
      borderColor: b.color,
      borderWidth: 0.8,
      pointRadius: 0,
      fill: false,
      cubicInterpolationMode: 'monotone',
    });
    ds.push({
      data: b.x.map((x, i) => ({ x, y: b.hi[i] })),
      borderColor: b.color,
      borderWidth: 0.8,
      backgroundColor: b.color,
      pointRadius: 0,
      fill: '-1',
      cubicInterpolationMode: 'monotone',
    });
  });
  p.lines.forEach((l) => {
    ds.push({
      data: l.x.map((x, i) => ({ x, y: l.y[i] })),
      borderColor: l.color,
      borderWidth: l.w,
      borderDash: l.dash || [],
      pointRadius: 0,
      fill: false,
      cubicInterpolationMode: 'monotone',
    });
  });
  const n = ds.length;
  ds.forEach((d, i) => {
    d.order = n - i;
    d.clip = 0;
  });
  return ds;
}

function makeConfig(p: Panel): any {
  const [l, t, r, b] = p.area;
  return {
    type: 'line',
    data: { datasets: buildDatasets(p) },
    options: {
      animation: false,
      responsive: false,
      devicePixelRatio: 1,
      events: [],
      layout: { padding: { left: l, top: t, right: W - r, bottom: H - b } },
      scales: {
        x: { type: 'logarithmic', min: 100, max: 100000, display: false },
        y: { type: 'logarithmic', min: p.yMin, max: p.yMax, display: false },
      },
      plugins: { legend: { display: false }, tooltip: { enabled: false } },
    },
    plugins: [makePlugin(p)],
  };
}

export default function App() {
  const refs = useRef<(HTMLCanvasElement | null)[]>([]);
  useEffect(() => {
    const charts = PANELS.map((p, i) => new Chart(refs.current[i] as HTMLCanvasElement, makeConfig(p)));
    return () => charts.forEach((c) => c.destroy());
  }, []);
  return (
    <div style={{ position: 'absolute', left: 0, top: 0, width: W, height: H, background: '#fff' }}>
      {PANELS.map((_, i) => (
        <canvas
          key={i}
          ref={(el) => {
            refs.current[i] = el;
          }}
          width={W}
          height={H}
          style={{ position: 'absolute', left: 0, top: 0, width: W, height: H }}
        />
      ))}
    </div>
  );
}
